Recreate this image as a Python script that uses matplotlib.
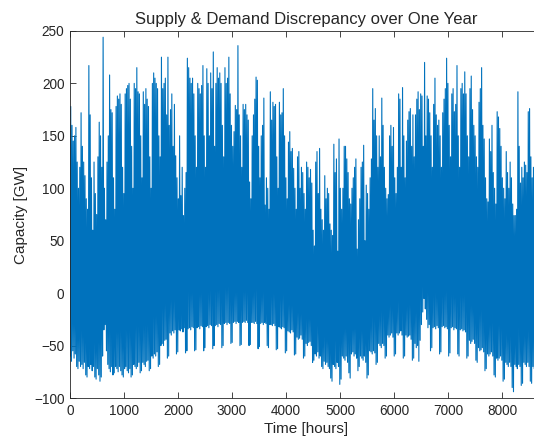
import numpy as np
import matplotlib.pyplot as plt

plt.rcParams["font.family"] = ["Liberation Sans", "DejaVu Sans"]

# daily maximum of the discrepancy [GW], one row per week
daily_peak = [
    178, 160, 145, 150, 158, 125, 100,
    120, 172, 140, 125, 112, 90, 80,
    217, 170, 110, 60, 125, 95, 75,
    130, 163, 150, 120, 244, 100, 70,
    125, 150, 208, 175, 172, 110, 80,
    178, 188, 185, 190, 180, 120, 95,
    190, 195, 198, 200, 185, 140, 100,
    200, 195, 215, 192, 190, 150, 110,
    192, 180, 195, 185, 178, 130, 100,
    200, 210, 205, 200, 195, 150, 130,
    225, 195, 200, 205, 170, 225, 160,
    175, 190, 140, 180, 131, 110, 90,
    150, 93, 120, 74, 100, 115, 224,
    215, 205, 200, 205, 190, 150, 120,
    200, 195, 190, 198, 217, 150, 120,
    214, 200, 150, 210, 195, 230, 140,
    200, 215, 205, 210, 200, 160, 130,
    215, 200, 205, 225, 190, 160, 140,
    154, 179, 175, 236, 170, 150, 120,
    180, 175, 180, 170, 165, 106, 90,
    150, 170, 185, 206, 203, 140, 110,
    150, 160, 186, 84, 110, 100, 80,
    192, 165, 182, 178, 180, 130, 100,
    182, 170, 172, 195, 150, 110, 90,
    144, 154, 135, 138, 119, 100, 80,
    130, 135, 100, 120, 115, 95, 80,
    125, 120, 110, 118, 105, 60, 45,
    125, 135, 95, 138, 80, 70, 60,
    112, 90, 100, 95, 66, 60, 55,
    142, 115, 128, 40, 147, 100, 80,
    100, 140, 140, 128, 115, 90, 85,
    100, 110, 120, 128, 42, 70, 90,
    120, 125, 141, 50, 103, 95, 80,
    110, 128, 195, 165, 176, 150, 120,
    150, 130, 186, 160, 120, 100, 90,
    94, 150, 160, 140, 158, 110, 95,
    120, 190, 185, 120, 196, 150, 110,
    145, 165, 173, 176, 140, 170, 130,
    170, 185, 192, 175, 190, 188, 140,
    220, 150, 188, 185, 172, 150, 120,
    180, 205, 170, 160, 165, 150, 120,
    172, 185, 195, 224, 200, 160, 130,
    190, 195, 173, 180, 217, 150, 120,
    195, 200, 190, 211, 190, 150, 130,
    195, 207, 175, 160, 150, 130, 120,
    182, 195, 215, 160, 147, 110, 90,
    87, 147, 135, 160, 115, 100, 85,
    173, 168, 157, 140, 110, 100, 90,
    135, 115, 100, 125, 110, 85, 74,
    74, 80, 192, 140, 105, 120, 110,
    125, 122, 115, 173, 176, 130, 110,
    120, 150, 140, 130, 125, 110, 100,
    120,
]

# daily minimum of the discrepancy [GW]
daily_trough = [
    -60, -65, -55, -62, -58, -70, -72,
    -65, -70, -68, -72, -66, -78, -80,
    -70, -72, -68, -74, -70, -80, -82,
    -72, -78, -84, -80, -60, -35, -30,
    -55, -68, -72, -75, -70, -78, -76,
    -70, -72, -75, -70, -74, -78, -80,
    -72, -70, -74, -76, -72, -80, -78,
    -68, -70, -72, -70, -66, -76, -74,
    -66, -68, -70, -65, -64, -74, -72,
    -60, -62, -58, -60, -56, -70, -68,
    -50, -48, -50, -45, -44, -62, -60,
    -38, -40, -36, -38, -35, -58, -56,
    -35, -36, -34, -37, -33, -57, -55,
    -34, -33, -35, -32, -33, -55, -54,
    -33, -32, -34, -31, -32, -55, -52,
    -32, -31, -33, -30, -31, -53, -50,
    -31, -30, -32, -29, -30, -52, -50,
    -29, -28, -30, -28, -29, -48, -47,
    -28, -27, -29, -27, -28, -50, -49,
    -28, -27, -28, -26, -28, -50, -49,
    -28, -28, -29, -27, -29, -53, -51,
    -29, -28, -30, -28, -29, -50, -52,
    -30, -30, -31, -29, -31, -54, -53,
    -32, -33, -34, -32, -33, -57, -55,
    -36, -37, -38, -35, -37, -59, -58,
    -42, -44, -43, -40, -44, -62, -60,
    -48, -50, -47, -46, -50, -66, -64,
    -58, -60, -56, -62, -60, -70, -72,
    -65, -68, -66, -70, -72, -81, -84,
    -68, -70, -72, -66, -70, -87, -82,
    -60, -62, -64, -60, -66, -76, -81,
    -58, -56, -60, -58, -62, -74, -70,
    -60, -62, -64, -60, -66, -81, -78,
    -55, -56, -58, -55, -57, -68, -66,
    -48, -50, -52, -48, -50, -62, -60,
    -40, -42, -40, -38, -42, -60, -58,
    -38, -40, -38, -36, -40, -62, -60,
    -40, -42, -41, -40, -44, -64, -62,
    -48, -52, -50, -65, -45, -30, -18,
    -5, -15, -25, -33, -30, -55, -52,
    -33, -32, -34, -31, -33, -58, -56,
    -32, -31, -33, -32, -34, -60, -57,
    -33, -32, -35, -33, -34, -58, -60,
    -35, -34, -36, -35, -37, -62, -60,
    -45, -48, -46, -44, -48, -64, -66,
    -52, -55, -54, -52, -56, -74, -72,
    -58, -60, -58, -56, -60, -78, -80,
    -62, -64, -62, -60, -64, -84, -82,
    -66, -68, -70, -66, -70, -90, -94,
    -68, -70, -72, -68, -70, -88, -86,
    -66, -68, -70, -66, -70, -84, -86,
    -70, -72, -74, -70, -72, -90, -88,
    -75,
]

x_ticks = [0, 1000, 2000, 3000, 4000, 5000, 6000, 7000, 8000]
y_ticks = [-100, -50, 0, 50, 100, 150, 200, 250]

# hourly axis: trough early in the day, peak in the afternoon
days = np.arange(len(daily_peak))
t = np.column_stack([days * 24 + 4, days * 24 + 14]).ravel()
y = np.column_stack([daily_trough, daily_peak]).ravel()

fig = plt.figure(figsize=(5.34, 4.46), dpi=100)
# the right edge of the axes runs past the picture, as in the original
ax = fig.add_axes([0.131, 0.1076, 0.886, 0.823])
ax.plot(t, y, color="#0072BD", lw=0.8)

ax.set_xlim(0, 8760)
ax.set_ylim(-100, 250)
ax.set_xticks(x_ticks)
ax.set_yticks(y_ticks)
ax.tick_params(direction="in", top=True, right=True, length=4, width=0.6,
               labelsize=9.8, colors="#262626", pad=4)
for s in ax.spines.values():
    s.set_linewidth(0.6)
    s.set_color("#262626")

ax.set_title("Supply & Demand Discrepancy over One Year", fontsize=12, color="#262626", pad=5)
ax.set_xlabel("Time [hours]", fontsize=11, color="#262626", labelpad=3)
ax.set_ylabel("Capacity [GW]", fontsize=11, color="#262626", labelpad=4)

fig.savefig("out.png", dpi=100)
